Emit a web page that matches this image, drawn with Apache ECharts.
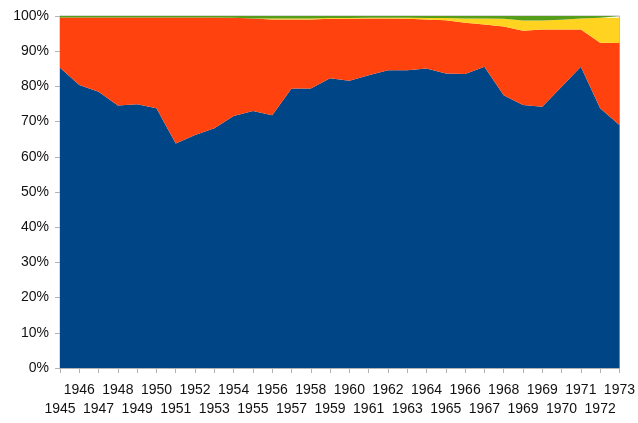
<!DOCTYPE html>
<html><head><meta charset="utf-8">
<script src="https://cdn.jsdelivr.net/npm/echarts@6/dist/echarts.min.js"></script>
<style>html,body{margin:0;padding:0;background:#fff}#c{width:638px;height:423px}</style>
</head><body><div id="c"></div>
<script>
const years = ['1945','1946','1947','1948','1949','1950','1951','1952','1953','1954','1955','1956','1957','1958','1959','1960','1961','1962','1963','1964','1965','1966','1967','1968','1969','1969','1970','1971','1972','1973'];
const blueShare = [85.3,80.4,78.5,74.6,74.9,73.8,63.8,66.2,68.1,71.6,73.0,71.8,79.4,79.4,82.3,81.6,83.2,84.6,84.6,85.1,83.7,83.5,85.6,77.5,74.7,74.2,79.9,85.6,73.8,69.0];
const redShare = [14.3,19.2,21.1,25.0,24.7,25.8,35.8,33.4,31.5,27.9,26.3,27.2,19.6,19.6,16.9,17.6,16.1,14.7,14.6,13.9,15.1,14.6,12.0,19.5,21.1,22.0,16.3,10.6,18.6,23.3];
const yellowShare = [0,0,0,0,0,0,0,0,0,0,0,0.3,0.3,0.3,0.2,0.2,0.2,0.2,0.3,0.4,0.6,1.2,1.7,2.2,2.9,2.5,2.7,3.1,7.1,7.2];
const greenShare = [0.4,0.4,0.4,0.4,0.4,0.4,0.4,0.4,0.4,0.5,0.7,0.7,0.7,0.7,0.6,0.6,0.5,0.5,0.5,0.6,0.6,0.7,0.7,0.8,1.3,1.3,1.1,0.7,0.5,0.5];
const yTicks = [0,10,20,30,40,50,60,70,80,90,100];

const colors = ['#004586','#ff420e','#ffd320','#579d1c'];
const seriesData = [blueShare, redShare, yellowShare, greenShare];
const chart = echarts.init(document.getElementById('c'));
chart.setOption({
  animation: false,
  grid: {left: 60, right: 18, top: 16, bottom: 55, show: true, borderColor: '#b3b3b3', borderWidth: 1, backgroundColor: 'transparent'},
  xAxis: {
    type: 'category', boundaryGap: false, data: years.map((y,i)=>String(i)),
    axisLine: {lineStyle: {color: '#b3b3b3'}},
    axisTick: {show: true, length: 5, interval: 0, lineStyle: {color: '#b3b3b3'}},
    axisLabel: {interval: 0, color: '#111', fontFamily: 'Liberation Sans', fontSize: 14, margin: 13, lineHeight: 19,
      formatter: (v, i) => (i % 2 === 0 ? '\n' + years[i] : years[i])},
    splitLine: {show: false}
  },
  yAxis: {
    type: 'value', min: yTicks[0], max: yTicks[yTicks.length-1], interval: 10,
    axisLine: {show: true, lineStyle: {color: '#b3b3b3'}},
    axisTick: {show: true, length: 5, lineStyle: {color: '#b3b3b3'}},
    axisLabel: {color: '#111', fontFamily: 'Liberation Sans', fontSize: 14, margin: 11, formatter: '{value}%'},
    splitLine: {show: false}
  },
  series: seriesData.map((d, k) => ({
    type: 'line', stack: 'total', data: d, symbol: 'none',
    lineStyle: {width: 0}, areaStyle: {color: colors[k], opacity: 1}, itemStyle: {color: colors[k]}
  }))
});
</script></body></html>
